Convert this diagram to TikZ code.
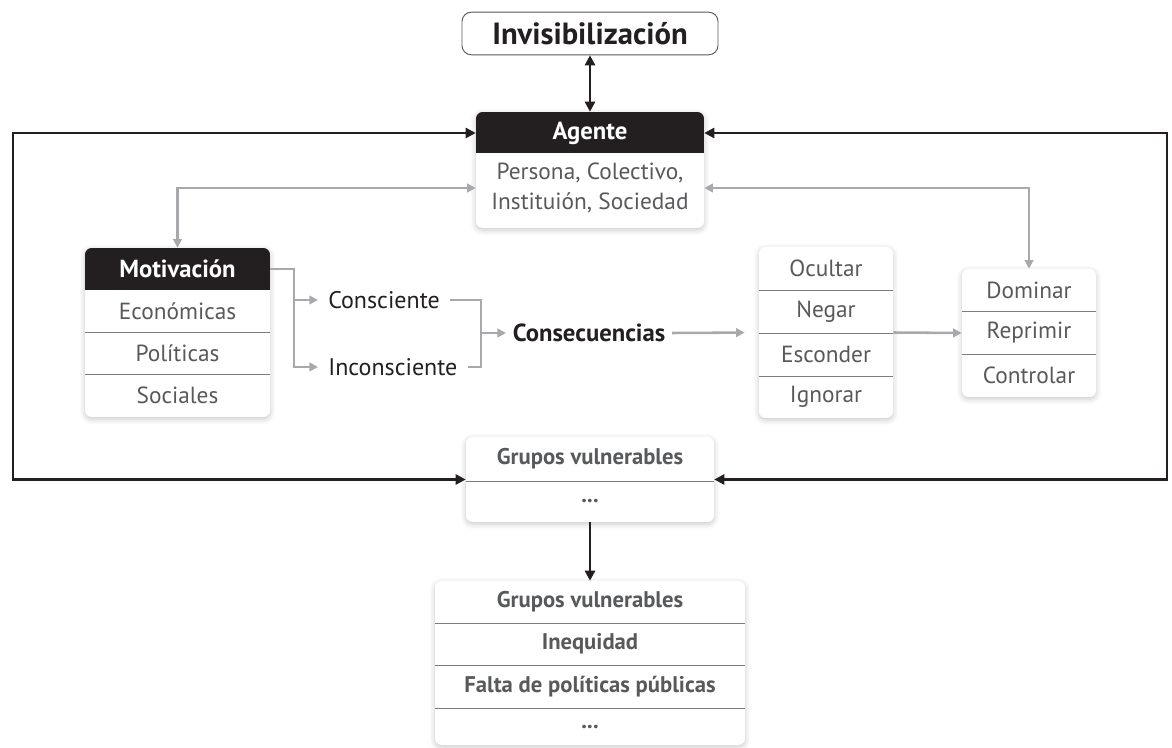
\documentclass[tikz,border=0pt]{standalone}
\usepackage{fontspec}
\setmainfont{PT Sans}
\usetikzlibrary{arrows.meta, fit, shadows.blur}

\definecolor{hdr}{RGB}{35,31,32}
\definecolor{txtg}{RGB}{88,89,91}
\definecolor{lng}{RGB}{167,169,172}
\definecolor{sepg}{RGB}{125,125,127}

\tikzset{
  card/.style={fill=white, rounded corners=5pt, inner sep=0pt,
    blur shadow={shadow xshift=0pt, shadow yshift=-1.5pt, shadow blur radius=4pt, shadow opacity=22}},
  topbox/.style={draw=txtg, fill=white, rounded corners=7pt, line width=0.7pt,
    font=\fontsize{23}{26}\selectfont\bfseries, text=hdr},
  hdrtxt/.style={text=white, font=\fontsize{18.5}{21}\selectfont\bfseries},
  itemtxt/.style={text=txtg, font=\fontsize{17.5}{23}\selectfont, align=center},
  bolditem/.style={text=txtg, font=\fontsize{17}{20}\selectfont\bfseries},
  plaintxt/.style={text=hdr, font=\fontsize{18}{21}\selectfont, inner xsep=7.5pt},
  sepline/.style={draw=sepg, line width=0.6pt},
  blk/.style={draw=hdr, line width=1.8pt, >={Triangle[length=7.5pt,width=7.5pt]}},
  gry/.style={draw=lng, line width=1.9pt, >={Triangle[length=6.5pt,width=6.5pt]}}
}

\begin{document}
\begin{tikzpicture}[x=0.75pt, y=-0.75pt]
  \useasboundingbox (0,0) rectangle (1172,748);

  % top box
  \node[topbox, minimum width=192pt, minimum height=32pt] (inv) at (590,33.5) {Invisibilización};

  % agente
  \node[card, fit={(476,112) (704,228)}] (agente) {};
  \begin{scope}
    \clip[rounded corners=5pt] (476,112) rectangle (704,228);
    \fill[hdr] (476,112) rectangle (704,153);
  \end{scope}
  \node[hdrtxt, minimum width=171pt] (agente-h) at (590,133) {Agente};
  \node[itemtxt, minimum width=171pt] (agente-b) at (590,188) {Persona, Colectivo,\\Instituión, Sociedad};

  % motivacion
  \node[card, fit={(85,248) (270,417)}] (motiv) {};
  \begin{scope}
    \clip[rounded corners=5pt] (85,248) rectangle (270,417);
    \fill[hdr] (85,248) rectangle (270,290);
  \end{scope}
  \node[hdrtxt, minimum width=138.75pt] (motiv-h) at (177.5,269) {Motivación};
  \node[itemtxt] (motiv-1) at (177.5,311) {Económicas};
  \node[itemtxt] (motiv-2) at (177.5,353) {Políticas};
  \node[itemtxt] (motiv-3) at (177.5,395.5) {Sociales};
  \draw[sepline] (85,332) -- (270,332);
  \draw[sepline] (85,374) -- (270,374);

  % consciente / inconsciente
  \node[plaintxt, anchor=west] (consc) at (318,300) {Consciente};
  \node[plaintxt, anchor=west] (incons) at (318,367) {Inconsciente};
  \coordinate (sp1) at (294,300);
  \coordinate (jn) at (481,333);
  \node[font=\fontsize{18.5}{21}\selectfont\bfseries, text=hdr, anchor=west, inner xsep=5pt] (consec) at (506,333) {Consecuencias};

  % ocultar
  \node[card, fit={(759,247) (893,418)}] (ocultar) {};
  \node[itemtxt] (ocultar-1) at (826,268.5) {Ocultar};
  \node[itemtxt] (ocultar-2) at (826,311.5) {Negar};
  \node[itemtxt] (ocultar-3) at (826,354.5) {Esconder};
  \node[itemtxt] (ocultar-4) at (826,397) {Ignorar};
  \draw[sepline] (759,290) -- (893,290);
  \draw[sepline] (759,333) -- (893,333);
  \draw[sepline] (759,376) -- (893,376);

  % dominar
  \node[card, fit={(962,269) (1096,397)}] (dominar) {};
  \node[itemtxt] (dominar-1) at (1029,290) {Dominar};
  \node[itemtxt] (dominar-2) at (1029,332.5) {Reprimir};
  \node[itemtxt] (dominar-3) at (1029,375.5) {Controlar};
  \draw[sepline] (962,311) -- (1096,311);
  \draw[sepline] (962,354) -- (1096,354);

  % grupos vulnerables
  \node[card, fit={(466,437) (714,522)}] (grupos) {};
  \node[bolditem] (grupos-1) at (590,459) {Grupos vulnerables};
  \node[bolditem] (grupos-2) at (590,501.5) {...};
  \draw[sepline] (466,481) -- (714,481);

  % efectos
  \node[card, fit={(435,581) (745,745)}] (efectos) {};
  \node[bolditem] (efectos-1) at (590,602) {Grupos vulnerables};
  \node[bolditem] (efectos-2) at (590,644) {Inequidad};
  \node[bolditem] (efectos-3) at (590,686.5) {Falta de políticas públicas};
  \node[bolditem] (efectos-4) at (590,727) {...};
  \draw[sepline] (435,623) -- (745,623);
  \draw[sepline] (435,665) -- (745,665);
  \draw[sepline] (435,708) -- (745,708);

  % black connectors
  \coordinate (lft) at (13,300);
  \coordinate (rgt) at (1167,300);
  \draw[blk, <->] (inv.south) -- (agente.north);
  \draw[blk, <->] (grupos.west) -| (lft) |- (agente-h.west);
  \draw[blk, <->] (grupos.east) -| (rgt) |- (agente-h.east);
  \draw[blk, ->] (grupos.south) -- (efectos.north);

  % gray connectors
  \draw[gry, <->] (motiv.north) |- (agente-b.west);
  \draw[gry, <->] (dominar.north) |- (agente-b.east);
  \draw[gry, ->] (motiv-h.east) -| (sp1) -- (consc.west);
  \draw[gry, ->] (sp1) |- (incons.west);
  \draw[gry] (consc.east) -| (jn);
  \draw[gry] (incons.east) -| (jn);
  \draw[gry, ->] (jn) -- (consec.west);
  \draw[gry, ->, shorten >=10.5pt] (consec.east) -- (ocultar.west);
  \draw[gry, ->] (ocultar.east) -- (dominar.west);
\end{tikzpicture}
\end{document}
